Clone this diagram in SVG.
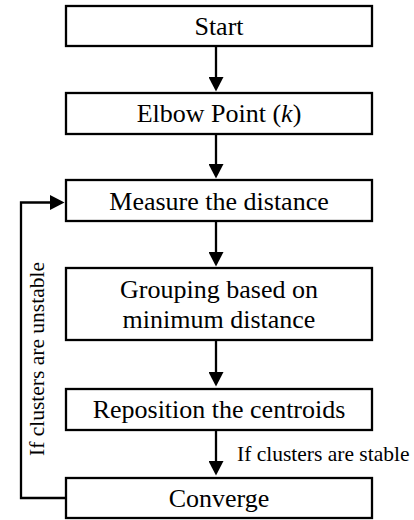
<svg xmlns="http://www.w3.org/2000/svg" width="414" height="520" viewBox="0 0 414 520">
  <style>
    .box { fill: #ffffff; stroke: #000000; stroke-width: 2.3; }
    .label { font-size: 26px; fill: #000000; text-anchor: middle; }
    .note { font-size: 21.5px; fill: #000000; }
    .edge { fill: none; stroke: #000000; stroke-width: 2.3; }
  </style>
  <defs>
    <marker id="arrow" markerUnits="userSpaceOnUse" markerWidth="15" markerHeight="15" refX="10" refY="7.5" orient="auto">
      <path d="M0,0 L14.5,7.5 L0,15 Z" fill="#000000"/>
    </marker>
  </defs>
  <rect width="414" height="520" fill="#ffffff"/>

  <g font-family="'Liberation Serif', 'Times New Roman', 'DejaVu Serif', serif">
  <g id="connectors">
    <line class="edge" x1="216" y1="47" x2="216" y2="87" marker-end="url(#arrow)"/>
    <line class="edge" x1="216" y1="135" x2="216" y2="174" marker-end="url(#arrow)"/>
    <line class="edge" x1="216" y1="222" x2="216" y2="262" marker-end="url(#arrow)"/>
    <line class="edge" x1="216" y1="341" x2="216" y2="382" marker-end="url(#arrow)"/>
    <line class="edge" x1="216" y1="431" x2="216" y2="471" marker-end="url(#arrow)"/>
    <path class="edge" d="M66,498 H21 V202.5 H60" marker-end="url(#arrow)"/>
    <text class="note" x="237" y="461">If clusters are stable</text>
    <text class="note" transform="translate(44,359) rotate(-90)" text-anchor="middle">If clusters are unstable</text>
  </g>

  <g id="start">
    <rect class="box" x="66" y="6" width="306" height="40"/>
    <text class="label" x="219" y="35">Start</text>
  </g>
  <g id="elbow">
    <rect class="box" x="66" y="93" width="306" height="41"/>
    <text class="label" x="219" y="122">Elbow Point (<tspan font-style="italic">k</tspan>)</text>
  </g>
  <g id="measure">
    <rect class="box" x="66" y="180" width="306" height="41"/>
    <text class="label" x="219" y="210">Measure the distance</text>
  </g>
  <g id="grouping">
    <rect class="box" x="66" y="268" width="306" height="72"/>
    <text class="label" x="219" y="298">Grouping based on</text>
    <text class="label" x="219" y="328">minimum distance</text>
  </g>
  <g id="reposition">
    <rect class="box" x="66" y="389" width="306" height="41"/>
    <text class="label" x="219" y="418">Reposition the centroids</text>
  </g>
  <g id="converge">
    <rect class="box" x="66" y="478" width="306" height="40"/>
    <text class="label" x="219" y="507">Converge</text>
  </g>
  </g>
</svg>
